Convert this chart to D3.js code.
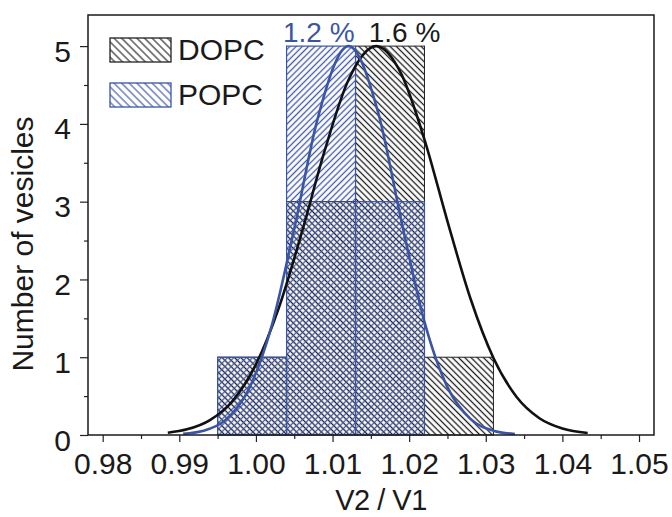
<!DOCTYPE html>
<html>
<head>
<meta charset="utf-8">
<script src="https://cdn.jsdelivr.net/npm/d3@7"></script>
<style>
  body { margin: 0; background: #fff; }
  svg text { font-family: Arial, "Liberation Sans", sans-serif; fill: #1a1a1a; }
</style>
</head>
<body>
<div id="chart"></div>
<script>
// histogram bins (V2/V1) and counts
const binEdges = [0.995, 1.004, 1.013, 1.022, 1.031];
const dopcCounts = [1, 3, 5, 1];
const popcCounts = [1, 5, 3, 0];

// gaussian fit curves
const dopcCurveX = [0.9885, 0.991, 0.994, 0.997, 1.000, 1.003, 1.006, 1.009, 1.012, 1.0157, 1.019, 1.022, 1.025, 1.028, 1.031, 1.034, 1.037, 1.040, 1.0433];
const dopcCurveY = [0.030, 0.073, 0.192, 0.444, 0.908, 1.638, 2.607, 3.665, 4.548, 5.0, 4.637, 3.799, 2.748, 1.755, 0.990, 0.492, 0.216, 0.084, 0.026];
const popcCurveX = [0.9905, 0.993, 0.996, 0.999, 1.002, 1.005, 1.008, 1.0121, 1.016, 1.019, 1.022, 1.025, 1.028, 1.031, 1.0338];
const popcCurveY = [0.014, 0.050, 0.191, 0.575, 1.383, 2.650, 4.046, 5.0, 4.128, 2.745, 1.455, 0.615, 0.207, 0.056, 0.013];

const xTicks = [0.98, 0.99, 1.00, 1.01, 1.02, 1.03, 1.04, 1.05];
const xMinorTicks = [0.985, 0.995, 1.005, 1.015, 1.025, 1.035, 1.045];
const yTicks = [0, 1, 2, 3, 4, 5];
const yMinorTicks = [0.5, 1.5, 2.5, 3.5, 4.5];

const seriesNames = ["DOPC", "POPC"];
const widthLabels = [{text: "1.2 %", x: 1.0082, series: "POPC"}, {text: "1.6 %", x: 1.0194, series: "DOPC"}];

const blue = "#3b55a5";
const dark = "#1a1a1a";

const margin = {top: 15, right: 18, bottom: 82, left: 88},
    width = 672 - margin.left - margin.right,
    height = 517 - margin.top - margin.bottom;

const svgRoot = d3.select("#chart")
  .append("svg")
    .attr("width", 672)
    .attr("height", 517);

// hatch patterns
const defs = svgRoot.append("defs");
function hatch(id, angle, gap, color, sw) {
  defs.append("pattern")
    .attr("id", id)
    .attr("patternUnits", "userSpaceOnUse")
    .attr("width", gap)
    .attr("height", gap)
    .attr("patternTransform", `rotate(${angle})`)
    .append("line")
      .attr("x1", gap / 2).attr("y1", 0)
      .attr("x2", gap / 2).attr("y2", gap)
      .attr("stroke", color)
      .attr("stroke-width", sw);
}
hatch("hatchDopc", -45, 4.4, "#1a1a1a", 1.3);
hatch("hatchPopc", 45, 4.4, "#3f56a8", 1.3);
hatch("legDopc", -45, 5.4, "#333", 1.2);
hatch("legPopc", -45, 5.4, "#4a60ad", 1.2);

const svg = svgRoot.append("g")
    .attr("transform", `translate(${margin.left}, ${margin.top})`);

const xScale = d3.scaleLinear().domain([0.978082, 1.051957]).range([0, width]);
const yScale = d3.scaleLinear().domain([0, 5.4]).range([height, 0]);

function bins(counts) {
  return counts.map((c, i) => ({x0: binEdges[i], x1: binEdges[i + 1], count: c}))
    .filter(d => d.count > 0);
}

// DOPC bars
svg.selectAll("rect.dopc")
  .data(bins(dopcCounts))
  .enter()
  .append("rect")
    .attr("class", "dopc")
    .attr("x", d => xScale(d.x0))
    .attr("y", d => yScale(d.count))
    .attr("width", d => xScale(d.x1) - xScale(d.x0))
    .attr("height", d => height - yScale(d.count))
    .attr("fill", "url(#hatchDopc)")
    .attr("stroke", "#222")
    .attr("stroke-width", 1);

// POPC bars
svg.selectAll("rect.popc")
  .data(bins(popcCounts))
  .enter()
  .append("rect")
    .attr("class", "popc")
    .attr("x", d => xScale(d.x0))
    .attr("y", d => yScale(d.count))
    .attr("width", d => xScale(d.x1) - xScale(d.x0))
    .attr("height", d => height - yScale(d.count))
    .attr("fill", "url(#hatchPopc)")
    .attr("stroke", blue)
    .attr("stroke-width", 1.2);

// fit curves
const line = d3.line()
  .x(d => xScale(d[0]))
  .y(d => yScale(d[1]))
  .curve(d3.curveMonotoneX);

svg.append("path")
  .datum(dopcCurveX.map((x, i) => [x, dopcCurveY[i]]))
  .attr("d", line)
  .attr("fill", "none")
  .attr("stroke", "#111")
  .attr("stroke-width", 2.6);

svg.append("path")
  .datum(popcCurveX.map((x, i) => [x, popcCurveY[i]]))
  .attr("d", line)
  .attr("fill", "none")
  .attr("stroke", blue)
  .attr("stroke-width", 2.6);

// axes
const xAxis = svg.append("g")
  .attr("transform", `translate(0, ${height})`)
  .call(d3.axisBottom(xScale).tickValues(xTicks).tickFormat(d3.format(".2f")).tickSize(7).tickPadding(11));
svg.append("g")
  .attr("transform", `translate(0, ${height})`)
  .call(d3.axisBottom(xScale).tickValues(xMinorTicks).tickFormat("").tickSize(4));

const yAxis = svg.append("g")
  .call(d3.axisLeft(yScale).tickValues(yTicks).tickFormat(d3.format("d")).tickSize(8).tickPadding(9));
svg.append("g")
  .call(d3.axisLeft(yScale).tickValues(yMinorTicks).tickFormat("").tickSize(4));

svg.selectAll(".domain").remove();
svg.selectAll(".tick line").attr("stroke", "#222").attr("stroke-width", 1.2);
xAxis.selectAll("text").style("font-size", "30px").attr("fill", dark);
yAxis.selectAll("text").style("font-size", "30px").attr("fill", dark).attr("dy", "0.5em");

// frame
svg.append("rect")
  .attr("x", 0).attr("y", 0)
  .attr("width", width).attr("height", height)
  .attr("fill", "none")
  .attr("stroke", "#1a1a1a")
  .attr("stroke-width", 1.5);

// axis titles
svgRoot.append("text")
  .attr("x", 381)
  .attr("y", 510)
  .attr("text-anchor", "middle")
  .style("font-size", "29px")
  .style("letter-spacing", "-0.5px")
  .text("V2 / V1");

svgRoot.append("text")
  .attr("transform", "translate(33, 244) rotate(-90)")
  .attr("text-anchor", "middle")
  .style("font-size", "30px")
  .text("Number of vesicles");

// width labels
svg.selectAll("text.wlab")
  .data(widthLabels)
  .enter()
  .append("text")
    .attr("class", "wlab")
    .attr("x", d => xScale(d.x))
    .attr("y", 27)
    .attr("text-anchor", "middle")
    .style("font-size", "28px")
    .style("fill", d => d.series === "POPC" ? blue : dark)
    .text(d => d.text);

// legend
const legend = svg.selectAll("g.leg")
  .data(seriesNames)
  .enter()
  .append("g")
    .attr("class", "leg")
    .attr("transform", (d, i) => `translate(22, ${23 + i * 45})`);

legend.append("rect")
  .attr("width", 61)
  .attr("height", 24)
  .attr("fill", d => d === "DOPC" ? "url(#legDopc)" : "url(#legPopc)")
  .attr("stroke", d => d === "DOPC" ? "#222" : blue)
  .attr("stroke-width", 1.3);

legend.append("text")
  .attr("x", 68)
  .attr("y", 22)
  .style("font-size", "30px")
  .text(d => d);
</script>
</body>
</html>
